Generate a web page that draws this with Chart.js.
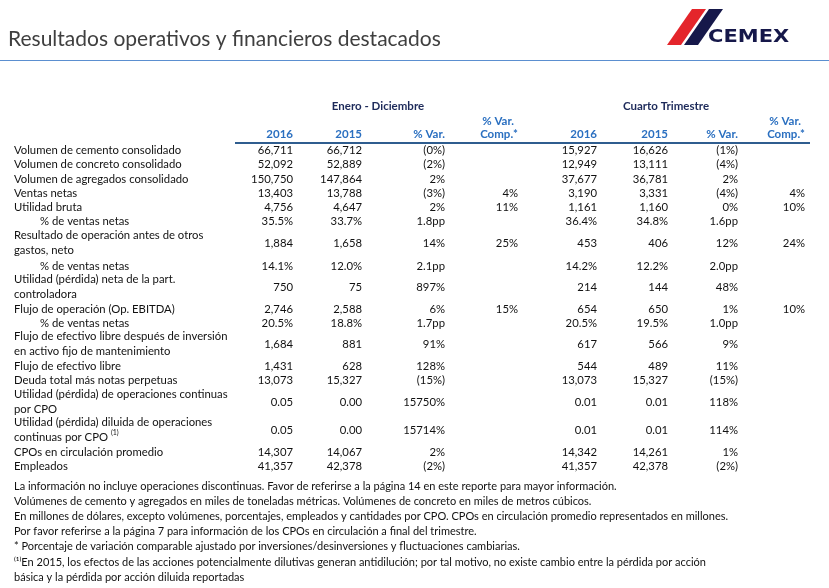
<!DOCTYPE html>
<html><head><meta charset="utf-8">
<script src="https://cdn.jsdelivr.net/npm/chart.js@4.4.0/dist/chart.umd.min.js"></script>
<style>html,body{margin:0;padding:0;background:#fff}#wrap{width:829px;height:588px}</style>
</head><body><div id="wrap"><canvas id="tbl"></canvas></div>
<script>
// row labels (\n = second line)
const rowLabels = [
  'Volumen de cemento consolidado', 'Volumen de concreto consolidado', 'Volumen de agregados consolidado',
  'Ventas netas', 'Utilidad bruta', '   % de ventas netas',
  'Resultado de operación antes de otros\ngastos, neto', '   % de ventas netas',
  'Utilidad (pérdida) neta de la part.\ncontroladora', 'Flujo de operación (Op. EBITDA)', '   % de ventas netas',
  'Flujo de efectivo libre después de inversión\nen activo fijo de mantenimiento', 'Flujo de efectivo libre',
  'Deuda total más notas perpetuas', 'Utilidad (pérdida) de operaciones continuas\npor CPO',
  'Utilidad (pérdida) diluida de operaciones\ncontinuas por CPO', 'CPOs en circulación promedio', 'Empleados'
];
const rowY = [150,164,179,193,207,221,243,266,287,309,323,344,366,380,402,430,452,466];
const ytd2016 = ['66,711','52,092','150,750','13,403','4,756','35.5%','1,884','14.1%','750','2,746','20.5%','1,684','1,431','13,073','0.05','0.05','14,307','41,357'];
const ytd2015 = ['66,712','52,889','147,864','13,788','4,647','33.7%','1,658','12.0%','75','2,588','18.8%','881','628','15,327','0.00','0.00','14,067','42,378'];
const ytdVar = ['(0%)','(2%)','2%','(3%)','2%','1.8pp','14%','2.1pp','897%','6%','1.7pp','91%','128%','(15%)','15750%','15714%','2%','(2%)'];
const ytdComp = ['','','','4%','11%','','25%','','','15%','','','','','','','',''];
const q4_2016 = ['15,927','12,949','37,677','3,190','1,161','36.4%','453','14.2%','214','654','20.5%','617','544','13,073','0.01','0.01','14,342','41,357'];
const q4_2015 = ['16,626','13,111','36,781','3,331','1,160','34.8%','406','12.2%','144','650','19.5%','566','489','15,327','0.01','0.01','14,261','42,378'];
const q4Var = ['(1%)','(4%)','2%','(4%)','0%','1.6pp','12%','2.0pp','48%','1%','1.0pp','9%','11%','(15%)','118%','114%','1%','(2%)'];
const q4Comp = ['','','','4%','10%','','24%','','','10%','','','','','','','',''];
const colRight = [293,362,445,518,597,668,738,805];
const footnotes = [
  'La información no incluye operaciones discontinuas. Favor de referirse a la página 14 en este reporte para mayor información.',
  'Volúmenes de cemento y agregados en miles de toneladas métricas. Volúmenes de concreto en miles de metros cúbicos.',
  'En millones de dólares, excepto volúmenes, porcentajes, empleados y cantidades por CPO. CPOs en circulación promedio representados en millones.',
  'Por favor referirse a la página 7 para información de los CPOs en circulación a final del trimestre.',
  '* Porcentaje de variación comparable ajustado por inversiones/desinversiones y fluctuaciones cambiarias.',
  '⁽¹⁾En 2015, los efectos de las acciones potencialmente dilutivas generan antidilución; por tal motivo, no existe cambio entre la pérdida por acción',
  'básica y la pérdida por acción diluida reportadas'
];

const F = 'Lato, "Open Sans", sans-serif';
const tablePlugin = {
  id: 'tablePlugin',
  afterDraw(chart) {
    const c = chart.ctx, x = chart.scales.x, y = chart.scales.y;
    const px = v => x.getPixelForValue(v), py = v => y.getPixelForValue(v);
    c.save();
    c.textBaseline = 'middle';
    // title
    c.fillStyle = '#3f3f3f'; c.font = '21px ' + F; c.textAlign = 'left';
    c.fillText('Resultados operativos y financieros destacados', px(8), py(39));
    c.strokeStyle = '#5b8fd0'; c.lineWidth = 1.2;
    c.beginPath(); c.moveTo(px(0), py(60.5)); c.lineTo(px(829), py(60.5)); c.stroke();
    // logo
    c.fillStyle = '#e4252b';
    c.beginPath(); c.moveTo(px(692), py(9)); c.lineTo(px(706), py(9)); c.lineTo(px(681), py(45)); c.lineTo(px(667), py(45)); c.fill();
    c.fillStyle = '#16184a';
    c.beginPath(); c.moveTo(px(709), py(9)); c.lineTo(px(723), py(9)); c.lineTo(px(698), py(45)); c.lineTo(px(684), py(45)); c.fill();
    c.font = 'bold 21px "DejaVu Sans", sans-serif';
    c.save(); c.translate(px(708), py(38)); c.scale(1.0, 0.8); c.fillText('CEMEX', 0, 0); c.restore();
    // headers
    c.fillStyle = '#1d2a5a'; c.font = 'bold 11.5px ' + F; c.textAlign = 'center';
    c.fillText('Enero - Diciembre', px(378), py(106));
    c.fillText('Cuarto Trimestre', px(666), py(106));
    c.fillStyle = '#2a6fc0'; c.textAlign = 'right';
    const heads = ['2016','2015','% Var.','Comp.*','2016','2015','% Var.','Comp.*'];
    heads.forEach((h, i) => c.fillText(h, px(colRight[i]), py(134)));
    c.fillText('% Var.', px(colRight[3] - 4), py(121));
    c.fillText('% Var.', px(colRight[7] - 4), py(121));
    c.strokeStyle = '#2f5d8f'; c.lineWidth = 2.2;
    c.beginPath(); c.moveTo(px(235), py(143)); c.lineTo(px(810), py(143)); c.stroke();
    // body
    c.fillStyle = '#111'; c.font = '11.3px ' + F;
    const cols = [ytd2016, ytd2015, ytdVar, ytdComp, q4_2016, q4_2015, q4Var, q4Comp];
    rowLabels.forEach((lab, r) => {
      c.textAlign = 'left';
      const lines = lab.split('\n');
      const ind = lab.startsWith('   ') ? 26 : 0;
      lines.forEach((ln, k) => {
        const yy = lines.length > 1 ? rowY[r] - 7.5 + k * 15 : rowY[r];
        c.fillText(ln.trim(), px(14 + ind), py(yy));
      });
      if (r === 15) {
        const w = c.measureText('continuas por CPO ').width;
        c.font = '7px ' + F; c.fillText('(1)', px(14) + w, py(rowY[r] + 3));
        c.font = '11.3px ' + F;
      }
      c.textAlign = 'right';
      cols.forEach((col, i) => { if (col[r]) c.fillText(col[r], px(colRight[i]), py(rowY[r])); });
    });
    // footnotes
    c.textAlign = 'left'; c.font = '11px ' + F;
    footnotes.forEach((t, i) => c.fillText(t, px(14), py(486 + i * 15.2)));
    c.restore();
  }
};

new Chart(document.getElementById('tbl'), {
  type: 'scatter',
  data: { datasets: [{ data: [] }] },
  options: {
    responsive: true, maintainAspectRatio: false, animation: false,
    layout: { padding: 0 },
    plugins: { legend: { display: false }, tooltip: { enabled: false } },
    scales: {
      x: { type: 'linear', min: 0, max: 829, display: false },
      y: { type: 'linear', min: 0, max: 588, reverse: true, display: false }
    }
  },
  plugins: [tablePlugin]
});
</script></body></html>
